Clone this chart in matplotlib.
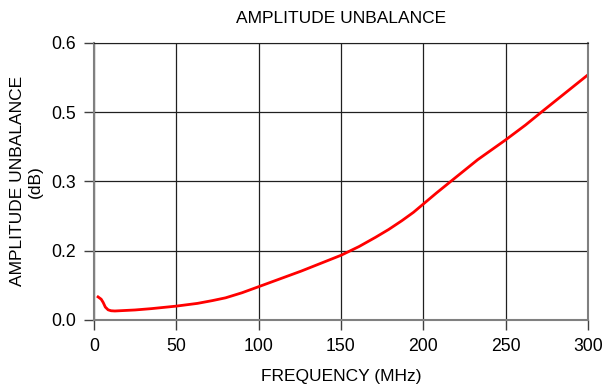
import numpy as np
import matplotlib.pyplot as plt

plt.rcParams['font.family'] = ['Liberation Sans', 'DejaVu Sans']

# ---------- data ----------
freq_mhz = [2.6, 4.5, 5.7, 7.0, 8.7, 10.5, 12.8, 25, 35, 50, 63, 72, 80,
            90, 100, 113, 126, 138, 150, 161, 171, 179, 187, 194, 200,
            208, 217, 233, 250, 262, 272, 286, 300]
unbalance_db = [0.050, 0.045, 0.038, 0.028, 0.022, 0.020, 0.0195, 0.0217,
                0.0246, 0.030, 0.036, 0.042, 0.048, 0.059, 0.072, 0.089,
                0.106, 0.123, 0.140, 0.159, 0.179, 0.196, 0.215, 0.233,
                0.251, 0.275, 0.301, 0.347, 0.390, 0.422, 0.451, 0.491,
                0.531]

x_ticks = [0, 50, 100, 150, 200, 250, 300]
y_ticks = [0, 0.15, 0.3, 0.45, 0.6]
y_tick_labels = ["0.0", "0.2", "0.3", "0.5", "0.6"]

# ---------- plot ----------
fig = plt.figure(figsize=(6.05, 3.86), dpi=100)
ax = fig.add_axes([0.155, 0.171, 0.817, 0.718])

ax.plot(freq_mhz, unbalance_db, color="#ff0000", linewidth=2,
        solid_joinstyle="round")

ax.set_xlim(0, 300)
ax.set_ylim(0, 0.6)
ax.set_xticks(x_ticks)
ax.set_yticks(y_ticks, labels=y_tick_labels)
ax.grid(True, color="#202020", linewidth=0.9)
ax.set_axisbelow(True)

for side in ["left", "bottom", "right"]:
    ax.spines[side].set_color("#808080")
    ax.spines[side].set_linewidth(1.5)
ax.spines["top"].set_color("#202020")

ax.tick_params(labelsize=12.7, length=7, width=1, color="#404040", pad=6)

ax.set_title("AMPLITUDE UNBALANCE", fontsize=12.5, pad=14)
ax.set_xlabel("FREQUENCY (MHz)", fontsize=12.5, labelpad=10)
ax.set_ylabel("AMPLITUDE UNBALANCE\n(dB)", fontsize=12.5, labelpad=6)

fig.savefig("out.png", dpi=100)
